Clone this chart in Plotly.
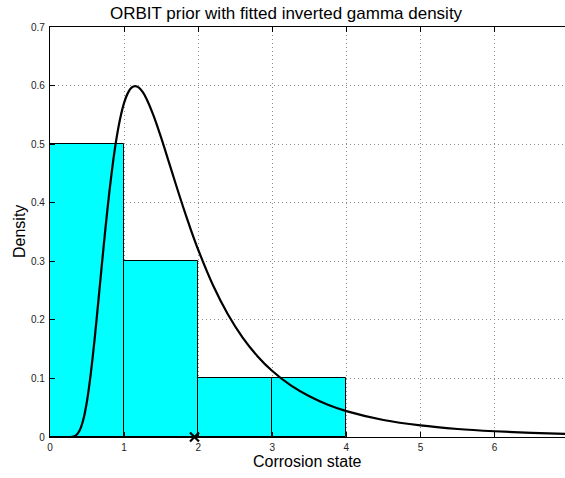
import plotly.graph_objects as go

# Histogram of the ORBIT prior (bin edges at integer corrosion states)
bin_left = [0, 1, 2, 3]
bin_density = [0.5, 0.3, 0.1, 0.1]

# Fitted inverted gamma density, sampled along the corrosion-state axis
curve_x = [0.0, 0.2, 0.3, 0.35, 0.4, 0.45, 0.5, 0.55, 0.6, 0.65, 0.7, 0.75,
           0.8, 0.85, 0.9, 0.95, 1.0, 1.05, 1.1, 1.15, 1.2, 1.25, 1.3, 1.4,
           1.5, 1.6, 1.7, 1.8, 1.9, 2.0, 2.2, 2.4, 2.6, 2.8, 3.0, 3.25, 3.5,
           3.75, 4.0, 4.5, 5.0, 5.5, 6.0, 6.5, 7.0]
curve_y = [0.0, 0.0, 0.0004, 0.0029, 0.0112, 0.0298, 0.0619, 0.1077, 0.1646,
           0.2284, 0.2945, 0.3585, 0.4174, 0.4689, 0.5117, 0.5455, 0.5704,
           0.5871, 0.5964, 0.5991, 0.5964, 0.5891, 0.5781, 0.5479, 0.5110,
           0.4711, 0.4307, 0.3914, 0.3542, 0.3197, 0.2591, 0.2096, 0.1698,
           0.1380, 0.1126, 0.0880, 0.0694, 0.0551, 0.0442, 0.0291, 0.0197,
           0.0137, 0.0098, 0.0071, 0.0053]

# Marked point on the axis
marker_x = [1.95]
marker_y = [0.0]

x_ticks = [0, 1, 2, 3, 4, 5, 6]
y_ticks = [0, 0.1, 0.2, 0.3, 0.4, 0.5, 0.6, 0.7]

FONT = "Liberation Sans, Arial, Helvetica, sans-serif"
GRID = dict(showgrid=True, gridcolor="#8c8c8c", griddash="1px,3px", gridwidth=1)

fig = go.Figure()

fig.add_trace(go.Bar(
    x=[b + 0.5 for b in bin_left],
    y=bin_density,
    width=1.0,
    marker=dict(color="#00ffff", line=dict(color="black", width=1)),
    hoverinfo="skip",
))

fig.add_trace(go.Scatter(
    x=curve_x, y=curve_y,
    mode="lines",
    line=dict(color="black", width=2.2, shape="spline", smoothing=0.6),
    hoverinfo="skip",
))

fig.add_trace(go.Scatter(
    x=marker_x, y=marker_y,
    mode="markers",
    marker=dict(symbol="x-thin", size=9, line=dict(color="black", width=2.2)),
    cliponaxis=False,
    hoverinfo="skip",
))

fig.update_layout(
    width=565, height=478,
    margin=dict(l=50, r=0, t=27, b=41),
    paper_bgcolor="white",
    plot_bgcolor="white",
    showlegend=False,
    bargap=0,
    font=dict(family=FONT, color="black"),
    xaxis=dict(
        range=[0, 6.95],
        tickvals=x_ticks,
        ticks="inside", ticklen=5, tickcolor="black",
        showline=True, linecolor="black", linewidth=1.2,
        mirror="ticks",
        zeroline=False,
        tickfont=dict(size=10, family=FONT, color="#222"),
        ticklabelstandoff=1,
        **GRID,
    ),
    yaxis=dict(
        range=[0, 0.7],
        tickvals=y_ticks,
        ticktext=["0", "0.1", "0.2", "0.3", "0.4", "0.5", "0.6", "0.7"],
        ticks="inside", ticklen=5, tickcolor="black",
        showline=True, linecolor="black", linewidth=1.2,
        zeroline=False,
        tickfont=dict(size=10, family=FONT, color="#222"),
        ticklabelstandoff=2,
        **GRID,
    ),
    annotations=[
        dict(text="ORBIT prior with fitted inverted gamma density",
             xref="paper", yref="paper", x=0.46, y=1.0, yshift=14,
             xanchor="center", yanchor="middle", showarrow=False,
             font=dict(size=17, family=FONT, color="black")),
        dict(text="Corrosion state",
             xref="paper", yref="paper", x=0.5, y=0.0, yshift=-24,
             xanchor="center", yanchor="middle", showarrow=False,
             font=dict(size=16, family=FONT, color="black")),
        dict(text="Density",
             xref="paper", yref="paper", x=0.0, y=0.5, xshift=-31,
             xanchor="center", yanchor="middle", textangle=-90, showarrow=False,
             font=dict(size=16, family=FONT, color="black")),
    ],
)

fig.write_html("out.html")
